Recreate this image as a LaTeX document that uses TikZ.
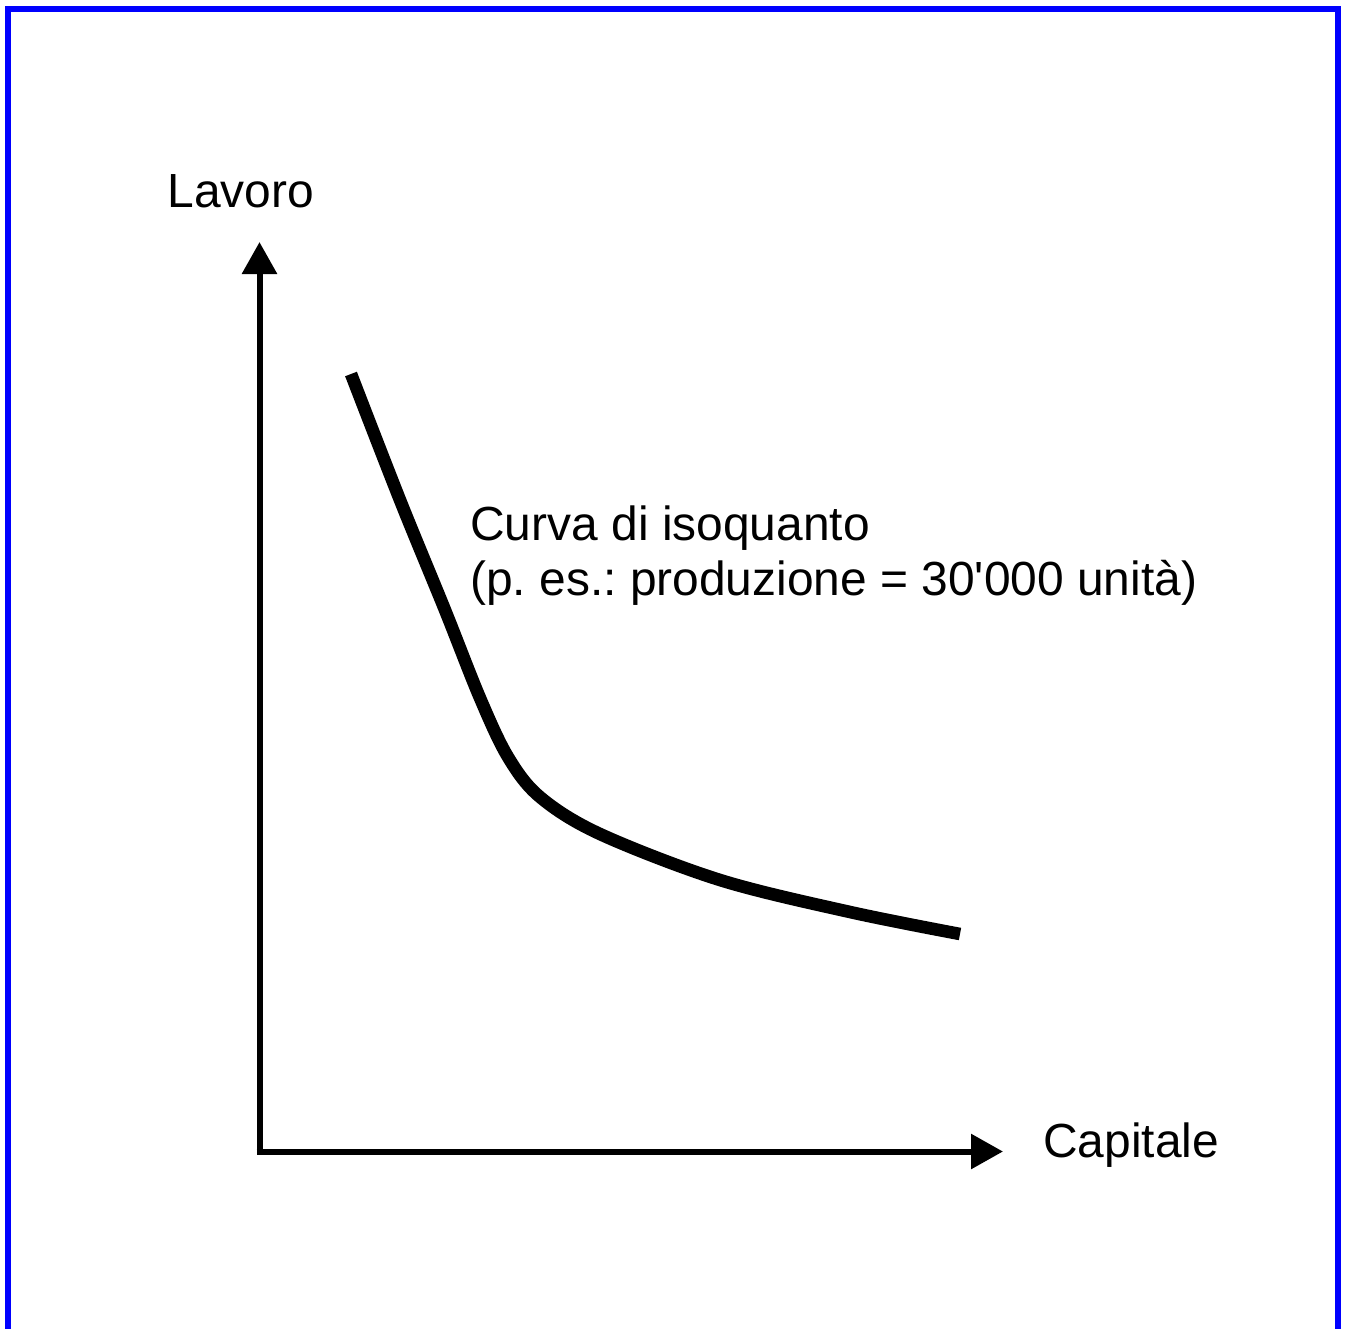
\documentclass[tikz,border=0pt]{standalone}
\usepackage{fontspec}
\setmainfont{Liberation Sans}
\usetikzlibrary{arrows.meta}
\frenchspacing
\begin{document}
\begin{tikzpicture}[x=0.5pt,y=-0.5pt,
  axis/.style={line width=3pt,-{Triangle[length=16pt,width=17pt]}},
  isocurve/.style={line width=6.3pt},
  lbl/.style={inner sep=0pt,anchor=base west,font=\fontsize{23.95}{28}\selectfont}]
\useasboundingbox (0,0) rectangle (1346,1329);
\draw[blue,line width=3pt] (8,1345) -- (8,9) -- (1338,9) -- (1338,1345);
\coordinate (O) at (259.5,1151.5);
\coordinate (ytip) at (259.5,242);
\coordinate (xtip) at (1003,1151.5);
\draw[axis] ([yshift=-0.75pt]O) -- (ytip);
\draw[axis] ([xshift=-1.5pt]O) -- (xtip);
\draw[isocurve] plot[smooth,tension=0.55] coordinates {(351,374) (400,500) (445,610) (480,698) (508,757) (540,797) (600,834) (720,880) (850,912) (960,934)};
\node[lbl] (lav) at (167,207) {Lavoro};
\node[lbl] (cur1) at (470,540) {Curva di isoquanto};
\node[lbl] (cur2) at (470,595) {(p. es.: produzione = 30\textquotesingle 000 unità)};
\node[lbl] (cap) at (1043,1157) {Capitale};
\end{tikzpicture}
\end{document}
